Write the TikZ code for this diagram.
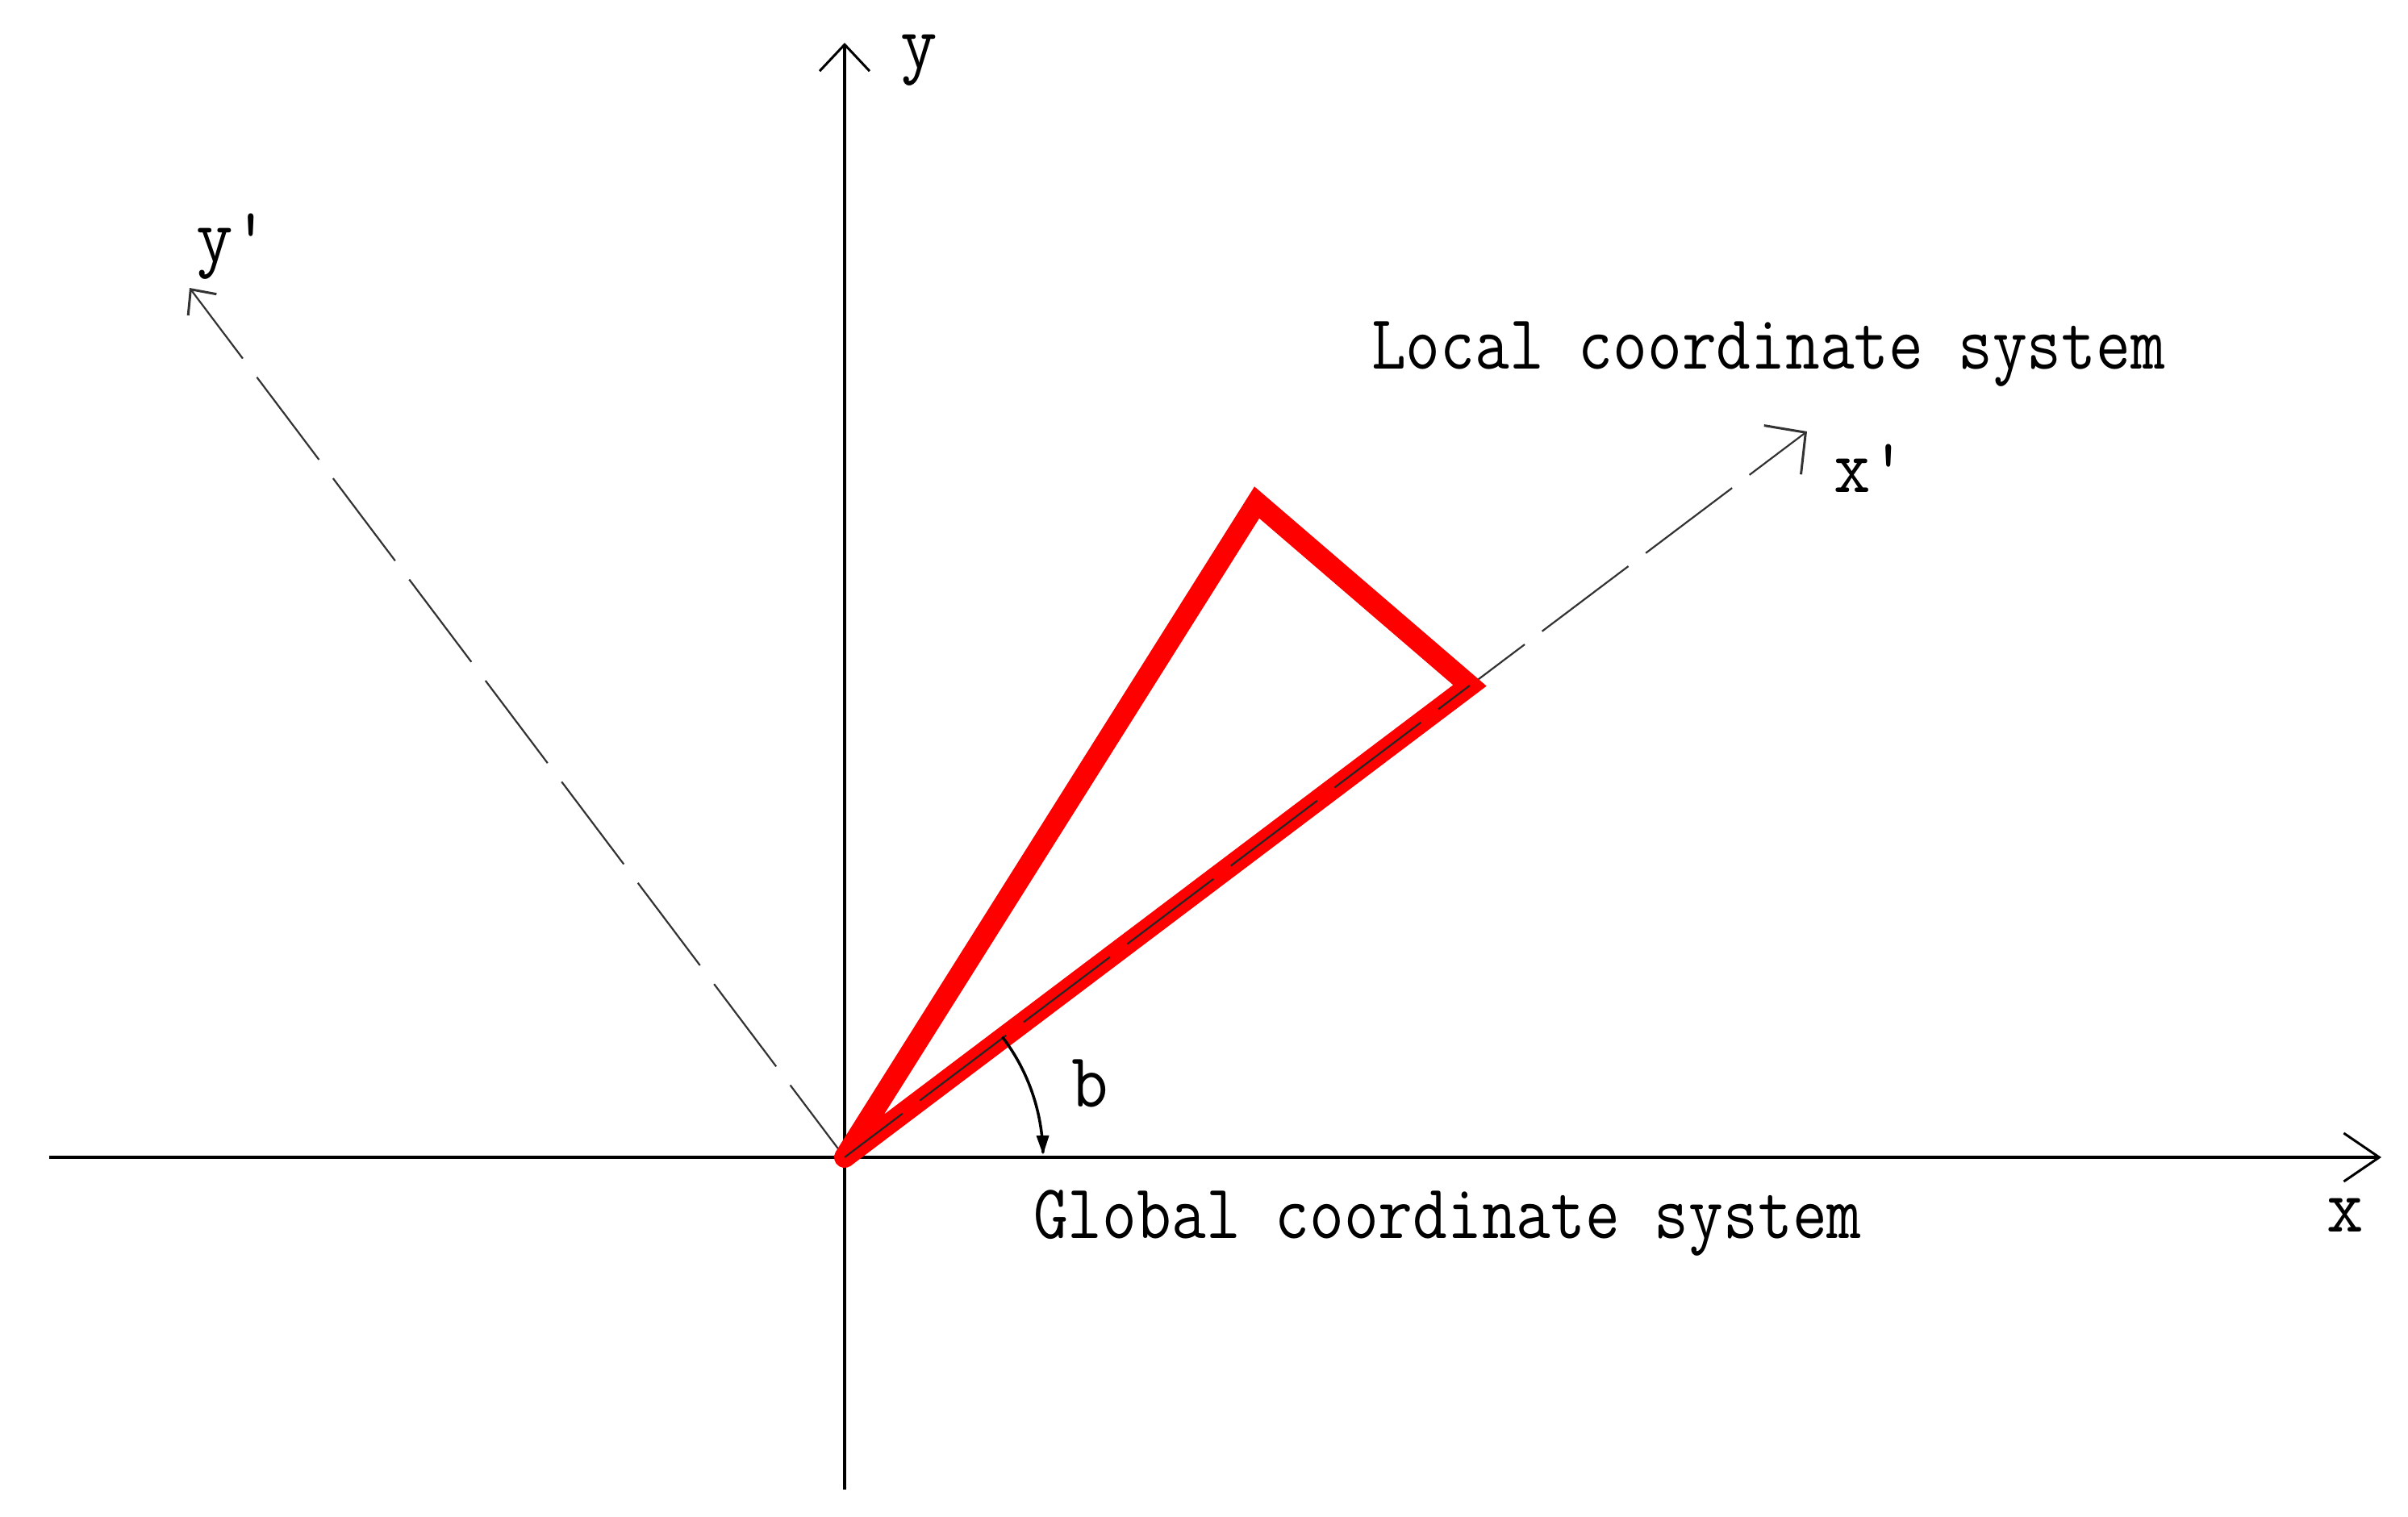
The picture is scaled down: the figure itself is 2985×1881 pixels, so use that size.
\documentclass[tikz,border=0pt]{standalone}
\usepackage{graphicx}
\usetikzlibrary{arrows.meta}
\tikzset{
  axisline/.style={line width=4pt, black},
  dashaxis/.style={line width=2.2pt, black!80},
  redtri/.style={line width=26pt, color={rgb,255:red,255;green,0;blue,0}, line join=miter, line cap=round},
  arcline/.style={line width=3.5pt, black},
  bigtxt/.style={inner sep=0pt, anchor=base west, font=\ttfamily\fontsize{96}{100}\selectfont},
}
\begin{document}
\begin{tikzpicture}[x=1pt,y=-1pt]
\path[use as bounding box, fill=white] (0,0) rectangle (2985,1881);
% named points
\coordinate (O)  at (1047,1435);
\coordinate (XL) at (61,1435);
\coordinate (XR) at (2952,1435);
\coordinate (YT) at (1047,53);
\coordinate (YB) at (1047,1847);
\coordinate (XP) at (2240,535);
\coordinate (YP) at (235,357);
\coordinate (A)  at (1558,623);
\coordinate (V)  at (1822,850);
% dashed local axes
\draw[dashaxis, dash pattern=on 134pt off 27pt, dash phase=44pt,
      -{Straight Barb[length=36pt,width=76pt,line width=3pt]}] (O) -- (XP);
\draw[dashaxis, dash pattern=on 128pt off 29pt, dash phase=16pt,
      -{Straight Barb[length=24pt,width=44pt,line width=3pt]}] (O) -- (YP);
% global axes
\draw[axisline, -{Straight Barb[length=44pt,width=60pt,line width=3pt]}] (XL) -- (XR);
\draw[axisline, -{Straight Barb[length=33pt,width=62pt,line width=3pt]}] (YB) -- (YT);
% red triangle
\draw[redtri] (O) -- (A) -- (V) -- (O);
% thin x' line over the red band
\draw[line width=2.2pt, black!85, dash pattern=on 134pt off 27pt, dash phase=44pt] (O) -- (V);
% angle arc b
\draw[arcline, -{Triangle[length=24pt,width=15pt]}]
  plot[domain=-37.4:-0.7, samples=60] ({1047+246*cos(\x)},{1435+246*sin(\x)});
% labels
\node[bigtxt] (ylab)  at (1116,85)  {\scalebox{0.92}[1]{y}};
\node[bigtxt] (yplab) at (243,324)  {\scalebox{0.92}[1]{y\textquotesingle}};
\node[bigtxt] (xplab) at (2273,610) {\scalebox{0.92}[1]{x\textquotesingle}};
\node[bigtxt] (xlab)  at (2884,1527) {\scalebox{0.92}[1]{x}};
\node[bigtxt] (blab)  at (1328,1372) {\scalebox{0.92}[1]{b}};
\node[bigtxt] (local)  at (1700,457)  {\scalebox{0.865}[1]{Local coordinate system}};
\node[bigtxt] (global) at (1281,1535) {\scalebox{0.865}[1]{Global coordinate system}};
\end{tikzpicture}
\end{document}
